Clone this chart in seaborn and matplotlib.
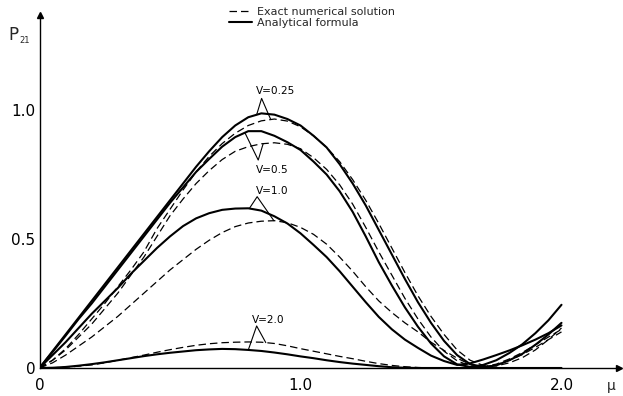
import numpy as np
import pandas as pd
import matplotlib
matplotlib.use("Agg")
import matplotlib.pyplot as plt
import seaborn as sns

# coupling parameter mu (abscissa)
mu = [0.00, 0.05, 0.10, 0.15, 0.20, 0.25, 0.30, 0.35, 0.40, 0.45,
      0.50, 0.55, 0.60, 0.65, 0.70, 0.75, 0.80, 0.85, 0.90, 0.95,
      1.00, 1.05, 1.10, 1.15, 1.20, 1.25, 1.30, 1.35, 1.40, 1.45,
      1.50, 1.55, 1.60, 1.65, 1.70, 1.75, 1.80, 1.85, 1.90, 1.95, 2.00]

# transition probability P21, analytical formula
p21_formula_v025 = [0.0, 0.065, 0.13, 0.195, 0.26, 0.325, 0.39, 0.455, 0.52, 0.585,
                    0.65, 0.715, 0.78, 0.84, 0.895, 0.94, 0.972, 0.987, 0.982, 0.965,
                    0.94, 0.90, 0.855, 0.79, 0.715, 0.63, 0.535, 0.44, 0.345, 0.255,
                    0.175, 0.105, 0.05, 0.015, 0.003, 0.01, 0.03, 0.055, 0.09, 0.13, 0.175]
p21_formula_v05 = [0.0, 0.062, 0.125, 0.19, 0.25, 0.315, 0.38, 0.445, 0.51, 0.575,
                   0.64, 0.70, 0.76, 0.81, 0.858, 0.895, 0.918, 0.918, 0.90, 0.875,
                   0.845, 0.80, 0.75, 0.685, 0.605, 0.51, 0.41, 0.32, 0.235, 0.16,
                   0.095, 0.045, 0.014, 0.004, 0.012, 0.03, 0.058, 0.092, 0.135, 0.185, 0.245]
p21_formula_v10 = [0.0, 0.05, 0.10, 0.155, 0.21, 0.26, 0.31, 0.365, 0.415, 0.465,
                   0.51, 0.55, 0.58, 0.60, 0.613, 0.618, 0.619, 0.61, 0.588, 0.56,
                   0.522, 0.477, 0.43, 0.375, 0.315, 0.255, 0.198, 0.15, 0.11, 0.078,
                   0.048, 0.027, 0.012, 0.018, 0.033, 0.05, 0.068, 0.088, 0.11, 0.135, 0.165]
p21_formula_v20 = [0.0, 0.001, 0.004, 0.009, 0.015, 0.022, 0.03, 0.038, 0.046, 0.053,
                   0.059, 0.064, 0.069, 0.072, 0.074, 0.073, 0.07, 0.066, 0.06, 0.053,
                   0.045, 0.038, 0.03, 0.023, 0.017, 0.012, 0.007, 0.003, 0.001, 0.0,
                   0.0, 0.0, 0.0, 0.0, 0.0, 0.0, 0.0, 0.0, 0.0, 0.0, 0.0]

# transition probability P21, exact numerical solution
p21_exact_v025 = [0.0, 0.03, 0.075, 0.13, 0.19, 0.25, 0.315, 0.38, 0.45, 0.54,
                  0.615, 0.69, 0.76, 0.82, 0.87, 0.91, 0.94, 0.958, 0.965, 0.957,
                  0.935, 0.90, 0.855, 0.80, 0.73, 0.65, 0.56, 0.465, 0.37, 0.28,
                  0.20, 0.13, 0.07, 0.03, 0.01, 0.008, 0.02, 0.04, 0.07, 0.11, 0.155]
p21_exact_v05 = [0.0, 0.03, 0.07, 0.12, 0.17, 0.23, 0.29, 0.36, 0.43, 0.51,
                 0.59, 0.655, 0.715, 0.765, 0.808, 0.84, 0.858, 0.869, 0.873, 0.867,
                 0.85, 0.815, 0.77, 0.71, 0.635, 0.545, 0.45, 0.36, 0.27, 0.19,
                 0.12, 0.065, 0.028, 0.008, 0.004, 0.012, 0.03, 0.052, 0.08, 0.11, 0.14]
p21_exact_v10 = [0.0, 0.02, 0.05, 0.085, 0.12, 0.16, 0.20, 0.245, 0.29, 0.335,
                 0.38, 0.42, 0.46, 0.495, 0.525, 0.548, 0.562, 0.569, 0.571, 0.563,
                 0.545, 0.518, 0.48, 0.43, 0.375, 0.315, 0.26, 0.215, 0.175, 0.14,
                 0.10, 0.068, 0.038, 0.014, 0.005, 0.015, 0.035, 0.06, 0.09, 0.12, 0.15]
p21_exact_v20 = [0.0, 0.001, 0.003, 0.007, 0.012, 0.02, 0.03, 0.04, 0.05, 0.061,
                 0.071, 0.08, 0.088, 0.094, 0.098, 0.10, 0.101, 0.10, 0.095, 0.086,
                 0.075, 0.065, 0.055, 0.045, 0.036, 0.026, 0.017, 0.01, 0.005, 0.002,
                 0.0, 0.0, 0.0, 0.0, 0.0, 0.0, 0.0, 0.0, 0.0, 0.0, 0.0]

v_labels = ["V=0.25", "V=0.5", "V=1.0", "V=2.0"]
formula_curves = [p21_formula_v025, p21_formula_v05, p21_formula_v10, p21_formula_v20]
exact_curves = [p21_exact_v025, p21_exact_v05, p21_exact_v10, p21_exact_v20]

# label placement (text anchor, pointer apex, mu where each leg meets its curve)
label_pos = [(0.828, 1.062), (0.828, 0.756), (0.830, 0.674), (0.815, 0.176)]
apex_pos = [(0.851, 1.045), (0.838, 0.806), (0.834, 0.664), (0.832, 0.163)]
leg_mu = [(0.832, 0.886), (0.787, 0.857), (0.804, 0.898), (0.800, 0.867)]

sns.set_style("white")
plt.rcParams["font.family"] = ["DejaVu Sans"]

W, H = 623, 396
x_max, y_max = 2.22, 1.37
fig = plt.figure(figsize=(W / 100, H / 100), dpi=100)
ax = fig.add_axes([39.5 / W, 28 / H, x_max * 261 / W, y_max * 258 / H])
ax.set_xlim(0, x_max)
ax.set_ylim(0, y_max)

dashed_lines = []
solid_lines = []
for f_vals, e_vals in zip(formula_curves, exact_curves):
    sns.lineplot(x=mu, y=e_vals, ax=ax, color="black", linewidth=0.9,
                 estimator=None, sort=False)
    ln = ax.lines[-1]
    ln.set_dashes((6, 3.2))
    dashed_lines.append(ln)
    sns.lineplot(x=mu, y=f_vals, ax=ax, color="black", linewidth=1.5,
                 estimator=None, sort=False)
    solid_lines.append(ax.lines[-1])

# V labels with two-legged pointers onto the solid and dashed curve
for lab, (lx, ly), (ax_x, ax_y), (ms, md), f_vals, e_vals in zip(
        v_labels, label_pos, apex_pos, leg_mu, formula_curves, exact_curves):
    ax.text(lx, ly, lab, fontsize=7.6, va="baseline", ha="left", color="black")
    ys = np.interp(ms, mu, f_vals)
    yd = np.interp(md, mu, e_vals)
    ax.plot([ms, ax_x, md], [ys, ax_y, yd], color="black", linewidth=0.8)

# axes drawn as arrows
for side in ["top", "right"]:
    ax.spines[side].set_visible(False)
for side in ["left", "bottom"]:
    ax.spines[side].set_color("black")
    ax.spines[side].set_linewidth(1.0)
ax.plot([0], [y_max], marker="^", markersize=4.5, color="black", clip_on=False)
ax.plot([x_max], [0], marker=">", markersize=4.5, color="black", clip_on=False)

ax.set_xticks([0, 1.0, 2.0], ["0", "1.0", "2.0"])
ax.set_yticks([0, 0.5, 1.0], ["0", "0.5", "1.0"])
ax.tick_params(axis="both", direction="in", length=5, width=1.0, color="black",
               labelsize=11, labelcolor="black")
ax.tick_params(axis="x", pad=7)
ax.tick_params(axis="y", pad=3)

ax.annotate("μ", xy=(2.19, 0), xytext=(0, -8), textcoords="offset points",
            ha="center", va="top", fontsize=10)
fig.text(8 / W, 1 - 40 / H, "P", fontsize=12, va="baseline", ha="left")
fig.text(19 / W, 1 - 43 / H, "21", fontsize=6, va="baseline", ha="left")

leg = ax.legend([dashed_lines[0], solid_lines[0]],
                ["Exact numerical solution", "Analytical formula"],
                loc="upper left", bbox_to_anchor=(229 / W, 1 - 7 / H),
                bbox_transform=fig.transFigure, frameon=False, fontsize=8,
                borderpad=0, handlelength=2.1, handletextpad=0.4,
                labelspacing=0.05, borderaxespad=0)

fig.savefig("out.png", dpi=100)
